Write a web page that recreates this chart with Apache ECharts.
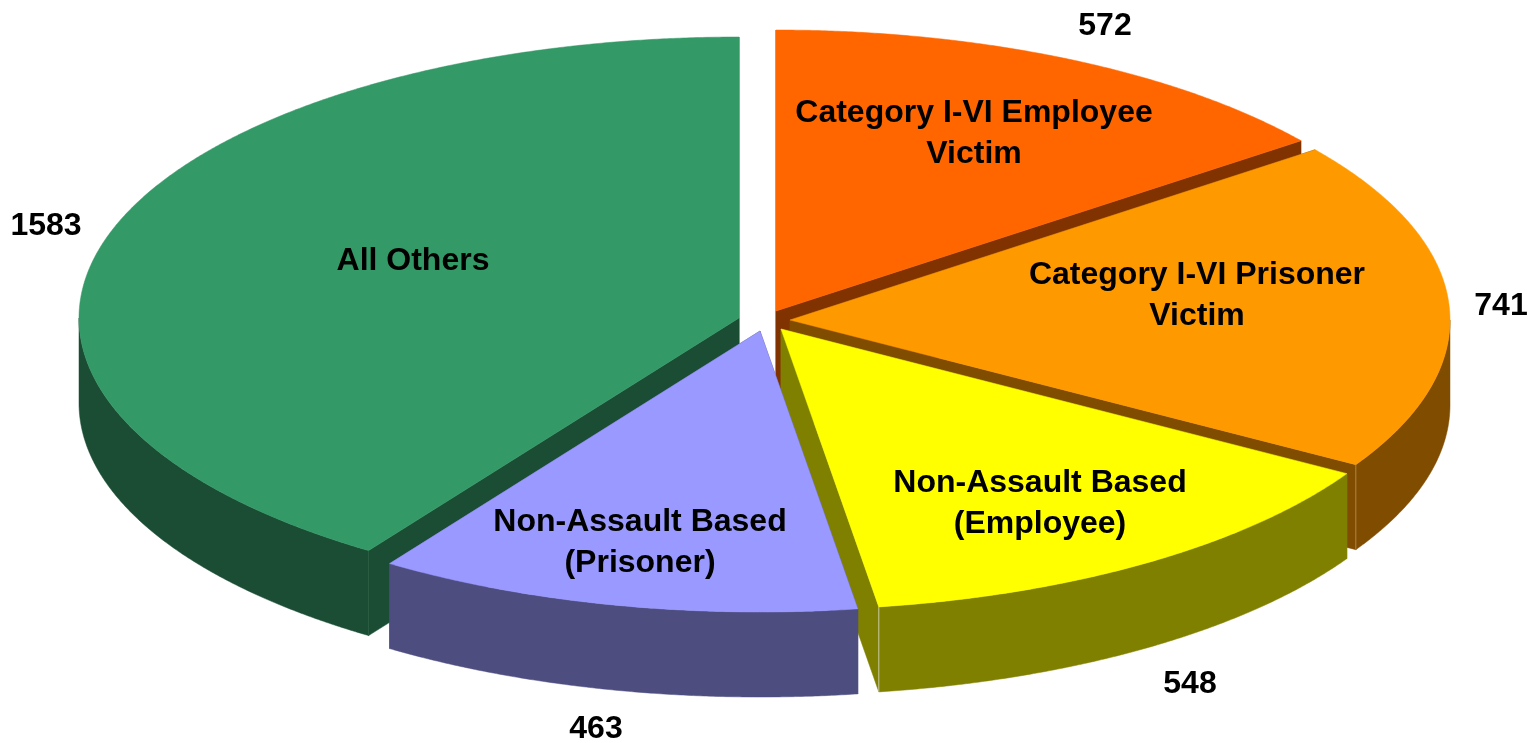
<!DOCTYPE html>
<html>
<head>
<meta charset="utf-8">
<style>
  html, body { margin: 0; padding: 0; background: #fff; }
  #chart { width: 1536px; height: 743px; }
</style>
<script src="https://cdn.jsdelivr.net/npm/echarts@6/dist/echarts.min.js"></script>
</head>
<body>
<div id="chart"></div>
<script>
// chart values, clockwise from 12 o'clock
const categories = [
  'Category I-VI Employee\nVictim',
  'Category I-VI Prisoner\nVictim',
  'Non-Assault Based\n(Employee)',
  'Non-Assault Based\n(Prisoner)',
  'All Others'
];
const values = [572, 741, 548, 463, 1583];

// look of each slice
const topColors = ['#ff6600', '#ff9900', '#ffff00', '#9999ff', '#339966'];
const sideColors = ['#803300', '#804d00', '#808000', '#4d4d80', '#1a4d33'];
const seamColors = ['#803300', '#b08040', '#c8c8a0', '#4d4d80', '#2a5d43'];

// pixel layout: tip of each exploded slice, and where its texts sit
const tips = [[776, 311], [790, 320], [781, 329], [760, 331], [739, 318]];
const namePos = [[974, 134], [1197, 296], [1040, 504], [640, 543], [413, 261]];
const valuePos = [[1105, 26], [1501, 306], [1190, 684], [596, 729], [46, 226]];
const radiusX = 660;
const radiusY = 281;
const depth = 85;
const HALF = Math.PI / 2;

const total = values.reduce((a, b) => a + b, 0);
const starts = [];
values.reduce((sum, v, i) => { starts[i] = sum; return sum + v; }, 0);

function toAngle(v) { return v / total * Math.PI * 2; }

function rim(tip, a, drop) {
  return [tip[0] + radiusX * Math.sin(a), tip[1] - radiusY * Math.cos(a) + (drop || 0)];
}

function arcPoints(tip, a0, a1, drop) {
  const pts = [];
  const n = Math.max(2, Math.ceil((a1 - a0) / 0.005));
  for (let i = 0; i <= n; i++) pts.push(rim(tip, a0 + (a1 - a0) * i / n, drop));
  return pts;
}

function renderSlice(params, api) {
  const i = params.dataIndex;
  const tip = tips[i];
  const a0 = toAngle(starts[i]);
  const a1 = toAngle(starts[i] + values[i]);
  const side = sideColors[i];
  // back slices get painted first
  const base = Math.round((1 - Math.cos((a0 + a1) / 2)) * 100) * 10;
  const children = [];

  function add(el) {
    el.z2 = base + children.length;
    children.push(el);
  }
  function polygon(points, color) {
    add({ type: 'polygon', shape: { points: points }, style: { fill: color, stroke: color, lineWidth: 0.5 } });
  }

  [a0, a1].forEach(function (a) {
    const p = rim(tip, a);
    polygon([tip, p, [p[0], p[1] + depth], [tip[0], tip[1] + depth]], side);
  });

  // outer wall, only the part facing the viewer
  const w0 = Math.max(a0, HALF);
  const w1 = Math.min(a1, HALF * 3);
  if (w1 > w0) {
    polygon(arcPoints(tip, w0, w1, 0).concat(arcPoints(tip, w0, w1, depth).reverse()), side);
    // light seam where a visible cut face meets the wall
    let seam = null;
    if (a1 > HALF && a1 < Math.PI) seam = a1;
    else if (a0 > Math.PI && a0 < HALF * 3) seam = a0;
    if (seam !== null) {
      const c = rim(tip, seam);
      add({
        type: 'line',
        shape: { x1: c[0], y1: c[1], x2: c[0], y2: c[1] + depth },
        style: { stroke: seamColors[i], lineWidth: 1 }
      });
    }
  }

  polygon([tip].concat(arcPoints(tip, a0, a1, 0)), topColors[i]);
  return { type: 'group', children: children };
}

function renderLabel(params, api) {
  const i = params.dataIndex;
  const textStyle = {
    fontFamily: '"Liberation Sans", Arial, sans-serif',
    fontWeight: 'bold',
    fontSize: 32,
    lineHeight: 41,
    fill: '#000',
    align: 'center',
    verticalAlign: 'middle'
  };
  return {
    type: 'group',
    children: [
      { type: 'text', x: namePos[i][0], y: namePos[i][1], style: Object.assign({ text: categories[i] }, textStyle) },
      { type: 'text', x: valuePos[i][0], y: valuePos[i][1], style: Object.assign({ text: String(values[i]) }, textStyle) }
    ]
  };
}

const chart = echarts.init(document.getElementById('chart'), null, { renderer: 'canvas' });
chart.setOption({
  animation: false,
  backgroundColor: '#ffffff',
  series: [
    { type: 'custom', coordinateSystem: 'none', renderItem: renderSlice, data: values, silent: true, z: 1 },
    { type: 'custom', coordinateSystem: 'none', renderItem: renderLabel, data: values, silent: true, z: 2 }
  ]
});
</script>
</body>
</html>
